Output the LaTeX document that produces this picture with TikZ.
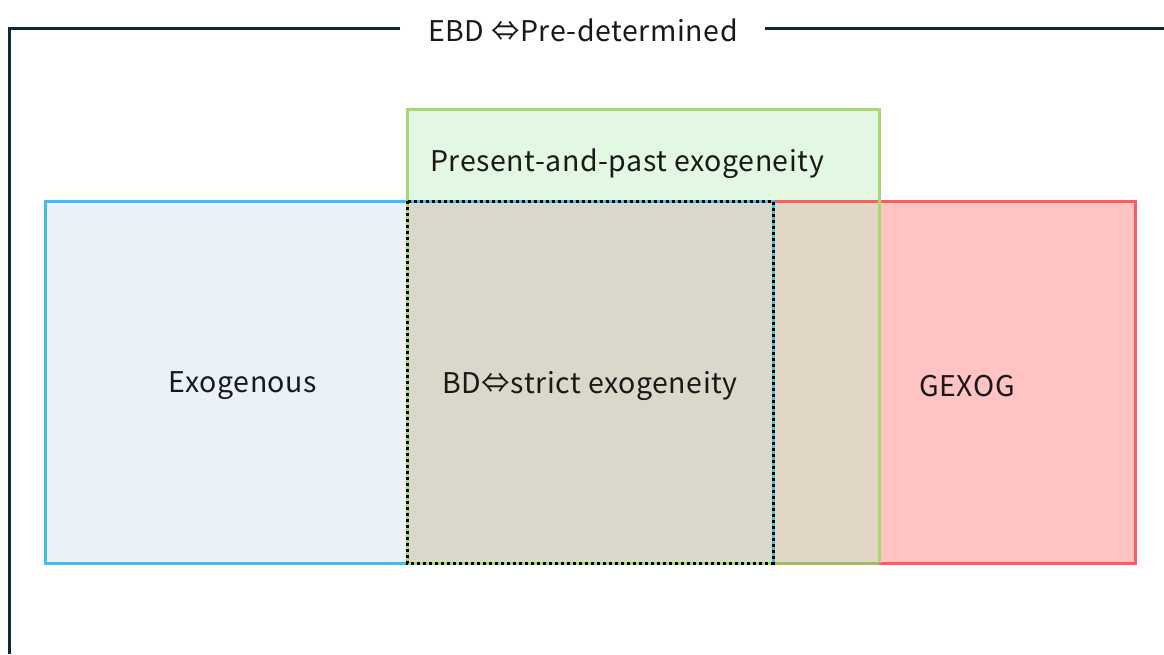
\documentclass[tikz,border=0pt]{standalone}
\usepackage{fontspec}
\setmainfont{Noto Sans CJK JP}[LetterSpace=2]
\begin{document}
\begin{tikzpicture}[x=1pt,y=-1pt,
  lbl/.style={font=\fontsize{28.5}{32}\selectfont, text=black!90, inner sep=0pt, anchor=center},
  frame/.style={draw=frameblue, line width=3pt},
  box/.style={line width=3pt}]
\definecolor{frameblue}{HTML}{0A2A3A}
\definecolor{bluefill}{HTML}{EAF1F9}
\definecolor{blueline}{HTML}{3DBFF0}
\definecolor{greenfill}{HTML}{E3F8E3}
\definecolor{greenline}{HTML}{A8D870}
\definecolor{redfill}{HTML}{FFC3C3}
\definecolor{redline}{HTML}{FF5B5B}
\definecolor{bgfill}{HTML}{D9D8CB}
\definecolor{rgfill}{HTML}{E2D6C4}
\definecolor{olive}{HTML}{A8B860}
\useasboundingbox (0,0) rectangle (1164,654);
% fills
\fill[bluefill] (45,201) rectangle (407,563);
\fill[greenfill] (407,109) rectangle (879,201);
\fill[redfill] (879,201) rectangle (1135,563);
\fill[bgfill] (407,201) rectangle (773,563);
\fill[rgfill] (773,201) rectangle (879,563);
% borders
\draw[box, draw=blueline] (407,201) -- (45,201) -- (45,563) -- (407,563);
\draw[box, draw=redline] (773,201) -- (1135,201) -- (1135,563) -- (879,563);
\draw[box, draw=greenline] (407,563) -- (407,109) -- (879,109) -- (879,563);
\draw[box, draw=olive] (879,563) -- (773,563);
\draw[box, draw=blueline] (407,201) -- (773,201) -- (773,563);
\draw[box, draw=greenline] (407,563) -- (773,563);
\draw[box, draw=black, dash pattern=on 3pt off 3pt] (407,201) rectangle (773,563);
% labels
\node[lbl] (title) at (583,30) {EBD ⇔Pre-determined};
\node[lbl] (exo) at (243,386) {Exogenous};
\node[lbl] (bd) at (590,386) {BD⇔strict exogeneity};
\node[lbl] (gex) at (967,386) {GEXOG};
\node[lbl] (pp) at (627,164) {Present-and-past exogeneity};
\coordinate (tl) at (400,28);
\coordinate (tr) at (765,28);
\draw[frame] (tl) -- (9,28) -- (9,654);
\draw[frame] (tr) -- (1164,28);
\end{tikzpicture}
\end{document}
